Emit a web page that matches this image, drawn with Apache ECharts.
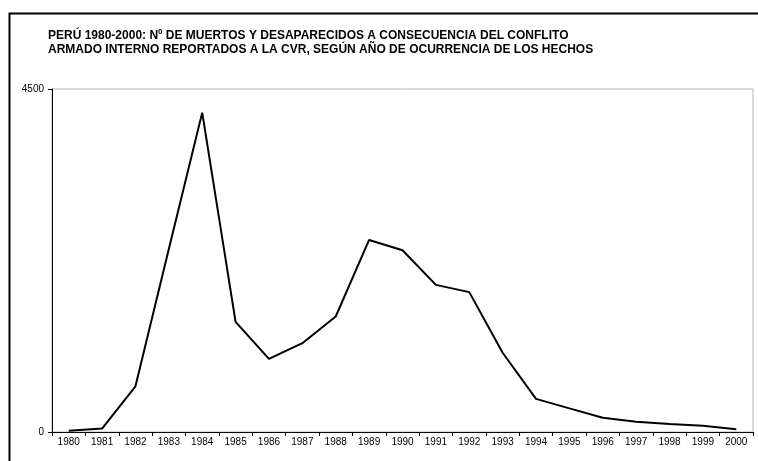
<!DOCTYPE html>
<html>
<head>
<meta charset="utf-8">
<script src="https://cdn.jsdelivr.net/npm/echarts@6/dist/echarts.min.js"></script>
<style>html,body{margin:0;padding:0;background:#fff}#c{width:758px;height:461px}</style>
</head>
<body>
<div id="c"></div>
<script>
const years = ['1980','1981','1982','1983','1984','1985','1986','1987','1988','1989','1990','1991','1992','1993','1994','1995','1996','1997','1998','1999','2000'];
const victims = [15, 45, 600, 2400, 4190, 1445, 960, 1165, 1515, 2520, 2385, 1930, 1835, 1040, 435, 310, 188, 135, 105, 83, 35];
const yTicks = [0, 4500];
const titleLines = ['PERÚ 1980-2000: Nº DE MUERTOS Y DESAPARECIDOS A CONSECUENCIA DEL CONFLITO', 'ARMADO INTERNO REPORTADOS A LA CVR, SEGÚN AÑO DE OCURRENCIA DE LOS HECHOS'];

const chart = echarts.init(document.getElementById('c'), null, {renderer: 'canvas'});
chart.setOption({
  animation: false,
  backgroundColor: '#fff',
  title: {
    text: titleLines.join('\n'),
    left: 43, top: 24,
    textStyle: {fontFamily: 'Liberation Sans', fontWeight: 'bold', fontSize: 12, color: '#000', lineHeight: 14}
  },
  graphic: [{
    type: 'rect', left: 7, top: 11, shape: {width: 800, height: 500},
    style: {fill: 'none', stroke: '#000', lineWidth: 2}, z: 100
  }],
  grid: {left: 52, right: 5, top: 89, bottom: 29, show: true, borderColor: '#b4b4b4', borderWidth: 1},
  xAxis: {
    type: 'category', data: years, boundaryGap: true,
    axisLine: {lineStyle: {color: '#000', width: 1}},
    axisTick: {show: true, length: 4, inside: false, lineStyle: {color: '#000'}},
    axisLabel: {fontFamily: 'Liberation Sans', fontSize: 10, color: '#000', margin: 5, interval: 0}
  },
  yAxis: {
    type: 'value', min: 0, max: 4500, interval: 4500,
    axisLine: {show: true, lineStyle: {color: '#000', width: 1}},
    axisTick: {show: true, length: 4, lineStyle: {color: '#000'}},
    splitLine: {show: false},
    axisLabel: {fontFamily: 'Liberation Sans', fontSize: 10, color: '#000', margin: 8,
      formatter: v => yTicks.includes(v) ? String(v) : ''}
  },
  series: [{
    type: 'line', data: victims, symbol: 'none',
    lineStyle: {color: '#000', width: 2}
  }]
});
</script>
</body>
</html>
